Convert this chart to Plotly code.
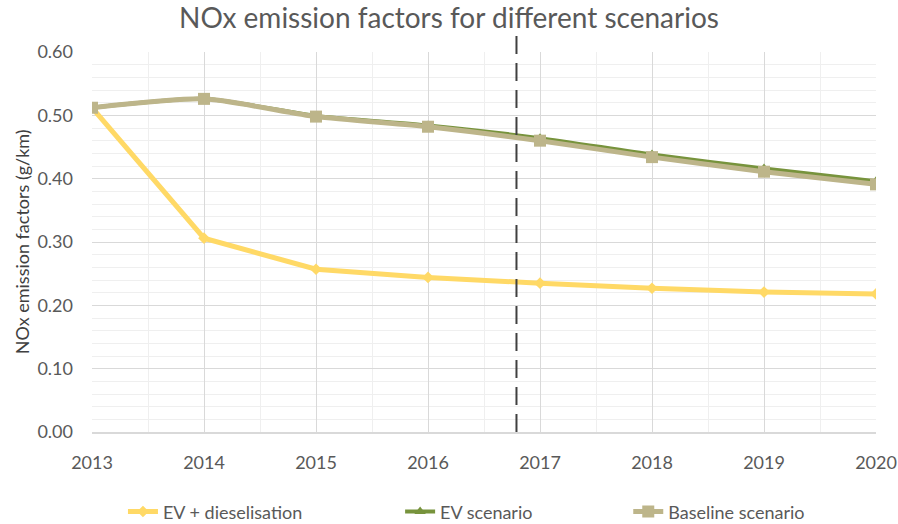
import plotly.graph_objects as go

years = [2013, 2014, 2015, 2016, 2017, 2018, 2019, 2020]
ev_diesel = [0.512, 0.306, 0.257, 0.244, 0.235, 0.227, 0.221, 0.218]
ev_scenario = [0.512, 0.526, 0.499, 0.484, 0.464, 0.438, 0.416, 0.396]
baseline = [0.512, 0.526, 0.498, 0.482, 0.460, 0.434, 0.411, 0.391]
policy_year = 2016.79

FONT = "Lato"
GREY = "#595959"

fig = go.Figure()
fig.add_trace(go.Scatter(
    x=years, y=ev_diesel, name="EV + dieselisation", mode="lines+markers",
    line=dict(color="#FFD966", width=5),
    marker=dict(symbol="diamond", size=9, color="#FFD966"), legend="legend"))
fig.add_trace(go.Scatter(
    x=years, y=ev_scenario, name="EV scenario", mode="lines+markers",
    line=dict(color="#77933C", width=4, shape="spline", smoothing=0.6),
    marker=dict(symbol="triangle-up", size=10, color="#77933C"), legend="legend2"))
fig.add_trace(go.Scatter(
    x=years, y=baseline, name="Baseline scenario", mode="lines+markers",
    line=dict(color="#BDB58A", width=5, shape="spline", smoothing=0.6),
    marker=dict(symbol="square", size=12, color="#BDB58A"), legend="legend3"))

fig.add_shape(type="line", xref="x", yref="paper",
              x0=policy_year, x1=policy_year, y0=0, y1=1.045,
              line=dict(color="#404040", width=2, dash="18px,9px"))

fig.add_annotation(text="NOx emission factors (g/km)", textangle=-90,
                   xref="paper", yref="paper", x=-0.089, y=0.5,
                   xanchor="center", yanchor="middle", showarrow=False,
                   font=dict(family=FONT, size=18, color="#404040"))

leg_common = dict(orientation="h", y=-0.21, yanchor="middle", xanchor="left",
                  font=dict(family=FONT, size=18, color=GREY),
                  bgcolor="rgba(0,0,0,0)")

fig.update_layout(
    width=898, height=524,
    margin=dict(l=92, r=22, t=52, b=92, autoexpand=False),
    paper_bgcolor="white", plot_bgcolor="white",
    font=dict(family=FONT, color=GREY, size=18),
    title=dict(text="NOx emission factors for different scenarios",
               x=0.5, xanchor="center", y=0.966, yanchor="middle",
               font=dict(family=FONT, size=28, color=GREY)),
    legend=dict(x=0.0395, **leg_common),
    legend2=dict(x=0.393, **leg_common),
    legend3=dict(x=0.684, **leg_common),
    showlegend=True,
)
fig.update_xaxes(
    range=[2013, 2020], dtick=1, tick0=2013,
    showgrid=True, gridcolor="#D9D9D9", gridwidth=1,
    minor=dict(dtick=0.5, showgrid=True, gridcolor="#EFEFEF"),
    showline=True, linecolor="#D9D9D9", linewidth=1.5,
    ticks="", ticklabelstandoff=14, automargin=False,
    tickfont=dict(family=FONT, size=18, color=GREY),
    zeroline=False)
fig.update_yaxes(
    range=[0, 0.6], dtick=0.1, tickformat=".2f",
    showgrid=True, gridcolor="#D9D9D9", gridwidth=1,
    minor=dict(dtick=0.02, showgrid=True, gridcolor="#EFEFEF"),
    showline=False, ticks="", ticklabelstandoff=18, automargin=False,
    tickfont=dict(family=FONT, size=18, color=GREY),
    zeroline=False)

fig.write_html("out.html", config={"displayModeBar": False},
               post_script="document.body.style.margin='0';document.body.style.overflow='hidden';")
